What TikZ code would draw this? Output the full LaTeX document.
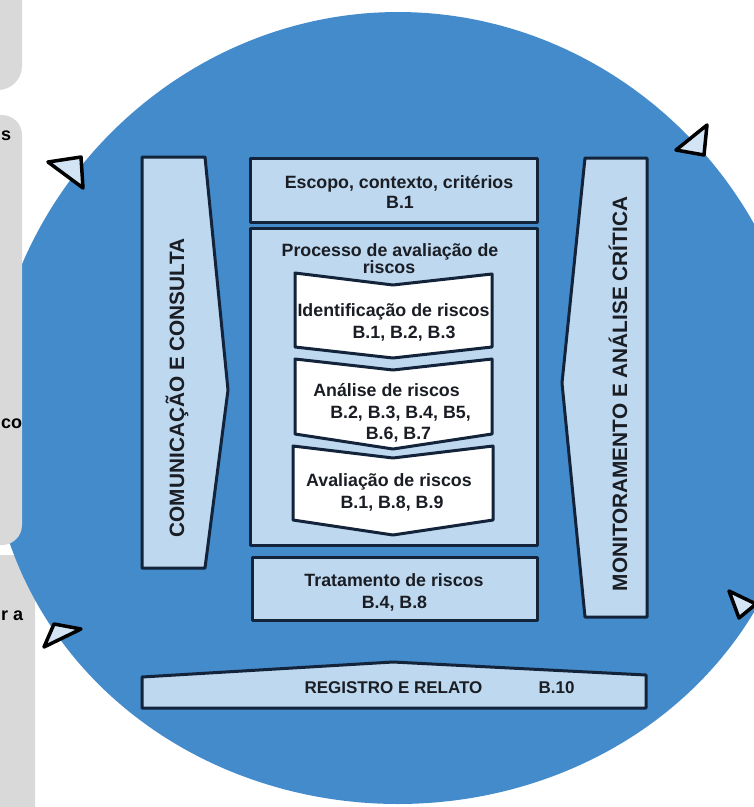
\documentclass[tikz,border=0pt]{standalone}
\usepackage{fontspec}
\setmainfont{Liberation Sans}
\definecolor{ringblue}{HTML}{438BCB}
\definecolor{boxfill}{HTML}{BED8EF}
\definecolor{boxline}{HTML}{12233A}
\definecolor{panelgrey}{HTML}{D9D9D9}
\definecolor{inktext}{HTML}{1A1D24}
\definecolor{markfill}{HTML}{D3E4F4}
\begin{document}
\begin{tikzpicture}[x=1pt,y=-1pt,
  boxshape/.style={fill=boxfill, draw=boxline, line width=3pt, line join=round},
  chevshape/.style={fill=white, draw=boxline, line width=3pt, line join=round},
  marker/.style={fill=markfill, draw=black, line width=3.5pt, line join=round},
  boxtext/.style={inner sep=0pt, anchor=base, text=inktext,
    font=\bfseries\fontsize{17.8}{21}\selectfont},
  bartext/.style={inner sep=0pt, anchor=base, text=inktext,
    font=\bfseries\fontsize{17}{20}\selectfont},
  sidetext/.style={inner sep=0pt, anchor=center, rotate=90, text=inktext,
    font=\bfseries\fontsize{20.8}{24}\selectfont},
  paneltext/.style={inner sep=0pt, anchor=base west, text=black,
    font=\bfseries\fontsize{18}{21}\selectfont},
]
\useasboundingbox (0,0) rectangle (754,807);
\clip (0,0) rectangle (754,807);

% grey side panel behind the ring
\fill[panelgrey, rounded corners=20pt] (-40,555) rectangle (35,850);

% the blue ring
\fill[ringblue] plot[domain=0:357.5, samples=144, smooth cycle]
  ({398+(408.5-13.5*sin(\x))*cos(\x)},{408-396*sin(\x)});

% grey side panels in front
\fill[panelgrey, rounded corners=24pt] (-40,-40) rectangle (22,90);
\fill[panelgrey, rounded corners=20pt] (-40,115) rectangle (22,545);
\node[paneltext] (pa) at (1,140) {s};
\node[paneltext] (pb) at (1,428) {co};
\node[paneltext] (pc) at (1,620) {r a};

% direction markers on the ring
\draw[marker] (48,162) -- (81,157) -- (83,188) -- cycle;
\draw[marker] (44,647) -- (54,624) -- (81,629) -- cycle;
\draw[marker] (676,150) -- (707,125) -- (704,155) -- cycle;
\draw[marker] (729,591) -- (756,604) -- (739,618) -- cycle;

% side bars
\draw[boxshape] (142,157) -- (205,157) -- (228,390) -- (205,568) -- (142,568) -- cycle;
\node[sidetext] (comm) at (177,388) {COMUNICAÇÃO E CONSULTA};
\draw[boxshape] (585,158) -- (647,158) -- (647,617) -- (585,617) -- (562,383) -- cycle;
\node[sidetext] (monit) at (618,394) {MONITORAMENTO E ANÁLISE CRÍTICA};

% central column
\draw[boxshape] (250,158) rectangle (537,222);
\node[boxtext] (esc1) at (399,188) {Escopo, contexto, critérios};
\node[boxtext] (esc2) at (400,208) {B.1};

\draw[boxshape] (250,228) rectangle (537,545);
\node[boxtext] (proc1) at (390,256) {Processo de avaliação de};
\node[boxtext] (proc2) at (389,273) {riscos};

\draw[chevshape] (295,273) -- (393,285) -- (492,274) -- (492,347) -- (393,358) -- (295,347) -- cycle;
\node[boxtext] (ident1) at (393.5,316) {Identificação de riscos};
\node[boxtext] (ident2) at (404,338) {B.1, B.2, B.3};

\draw[chevshape] (295,359) -- (393,370) -- (492,359) -- (492,434) -- (393,449) -- (295,434) -- cycle;
\node[boxtext] (anal1) at (386.5,396) {Análise de riscos};
\node[boxtext] (anal2) at (400.5,418) {B.2, B.3, B.4, B5,};
\node[boxtext] (anal3) at (398.5,439) {B.6, B.7};

\draw[chevshape] (293,446) -- (393,458) -- (493,446) -- (493,520) -- (393,535) -- (293,520) -- cycle;
\node[boxtext] (aval1) at (389,486) {Avaliação de riscos};
\node[boxtext] (aval2) at (392,508) {B.1, B.8, B.9};

\draw[boxshape] (252,557) rectangle (537,620);
\node[boxtext] (trat1) at (394,586) {Tratamento de riscos};
\node[boxtext] (trat2) at (394.5,608) {B.4, B.8};

% bottom bar
\draw[boxshape] (142,677) -- (393,662) -- (646,675) -- (646,708) -- (142,708) -- cycle;
\node[bartext] (reg) at (393.5,693) {REGISTRO E RELATO};
\node[bartext] (regb) at (556.5,693) {B.10};
\end{tikzpicture}
\end{document}
